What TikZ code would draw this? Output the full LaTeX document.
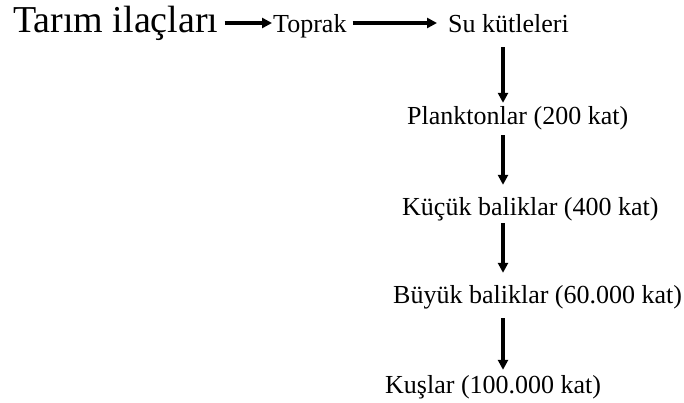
\documentclass[tikz,border=0pt]{standalone}
\usepackage{fontspec}
\setmainfont{Liberation Serif}
\usetikzlibrary{arrows.meta}
\begin{document}
\begin{tikzpicture}[x=1pt, y=-1pt,
    stage/.style={anchor=base west, inner sep=0pt, font=\fontsize{26}{30}\selectfont, text height=18pt, text depth=6pt},
    flow/.style={-{Triangle[length=10pt,width=10pt]}, line width=3.2pt}]
    \useasboundingbox (0,0) rectangle (684,403);

    % Top row: source and first carriers
    \node[stage, font=\fontsize{38}{44}\selectfont, text height=27pt, text depth=7pt] (ilac) at (13,33) {Tarım ilaçları};
    \node[stage] (toprak) at (273,33) {Toprak};
    \node[stage] (su) at (448,33) {Su kütleleri};
    \draw[flow, shorten <=6pt, shorten >=1pt] (ilac.east) -- (ilac.east -| toprak.west);
    \draw[flow, shorten <=6pt, shorten >=11pt] (ilac.east -| toprak.east) -- (ilac.east -| su.west);

    % The food chain going down
    \coordinate (spine) at (503,0);
    \node[stage] (plankton) at (407,125) {Planktonlar (200 kat)};
    \node[stage] (kucuk) at (402,215) {Küçük baliklar (400 kat)};
    \node[stage] (buyuk) at (393,303) {Büyük baliklar (60.000 kat)};
    \node[stage] (kuslar) at (385,393) {Kuşlar (100.000 kat)};

    \draw[flow, shorten <=8pt, shorten >=4pt] (su.south -| spine) -- (plankton.north -| spine);
    \draw[flow, shorten <=4pt, shorten >=12pt] (plankton.south -| spine) -- (kucuk.north -| spine);
    \draw[flow, shorten <=2pt, shorten >=12pt] (kucuk.south -| spine) -- (buyuk.north -| spine);
    \draw[flow, shorten <=9pt, shorten >=5pt] (buyuk.south -| spine) -- (kuslar.north -| spine);
\end{tikzpicture}
\end{document}
